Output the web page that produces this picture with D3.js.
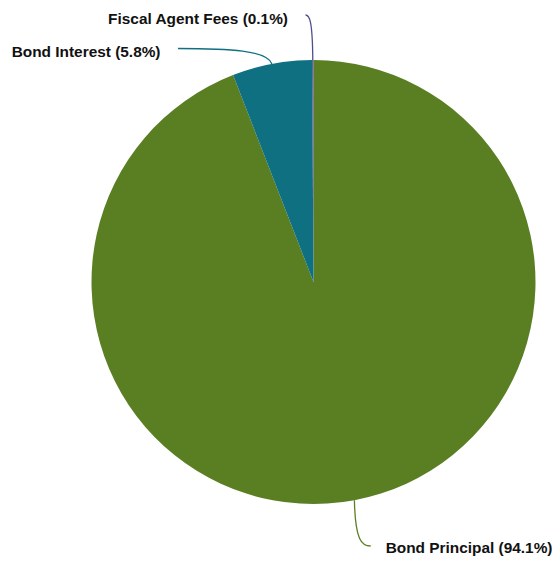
<!DOCTYPE html>
<html>
<head>
<meta charset="utf-8">
<script src="https://cdn.jsdelivr.net/npm/d3@7"></script>
<style>
  html, body { margin: 0; padding: 0; background: #fff; }
  svg { display: block; }
</style>
</head>
<body>
<svg id="chart" width="554" height="561"></svg>
<script>
const categories = ["Bond Principal", "Bond Interest", "Fiscal Agent Fees"];
const values = [94.1, 5.8, 0.1];
const colors = ["#5a7f23", "#0e7081", "#4f4f8f"];

// label layout: connector end point and label baseline
const labelLayout = [
  { end: [370.7, 546], side: "right", baseline: 553 },
  { end: [178, 48.5], side: "left", baseline: 57 },
  { end: [305.5, 15], side: "left", baseline: 24 }
];

const W = 554, H = 561;
const cx = 313.5, cy = 282, r = 222;
const svg = d3.select("#chart");
const g = svg.append("g").attr("transform", `translate(${cx},${cy})`);

const data = categories.map((c, i) => ({ name: c, value: values[i], color: colors[i] }));
const pie = d3.pie().sort(null).value(d => d.value);
const arcs = pie(data);
const arc = d3.arc().innerRadius(0).outerRadius(r);

g.selectAll("path.slice").data(arcs).enter().append("path")
  .attr("class", "slice")
  .attr("d", arc)
  .attr("fill", d => d.data.color);

const total = d3.sum(values);
arcs.forEach((a, i) => {
  const mid = (a.startAngle + a.endAngle) / 2;
  const ex = cx + r * Math.sin(mid), ey = cy - r * Math.cos(mid);
  const L = labelLayout[i];
  const [lx, ly] = L.end;
  const c1x = ex + (lx - ex) * 0.05, c1y = ey + (ly - ey) * 0.88;
  const c2x = ex + (lx - ex) * 0.45, c2y = ly;
  svg.append("path")
    .attr("d", `M${ex},${ey} C${c1x},${c1y} ${c2x},${c2y} ${lx},${ly}`)
    .attr("fill", "none")
    .attr("stroke", a.data.color)
    .attr("stroke-width", 1.3);
  const pct = (a.data.value / total * 100).toFixed(1);
  svg.append("text")
    .attr("x", L.side === "right" ? lx + 15 : lx - 17.5)
    .attr("y", L.baseline)
    .attr("text-anchor", L.side === "right" ? "start" : "end")
    .attr("font-family", "'Liberation Sans', Arial, Helvetica, sans-serif")
    .attr("font-weight", "bold")
    .attr("font-size", "15.4px")
    .attr("fill", "#111")
    .text(`${a.data.name} (${pct}%)`);
});
</script>
</body>
</html>
